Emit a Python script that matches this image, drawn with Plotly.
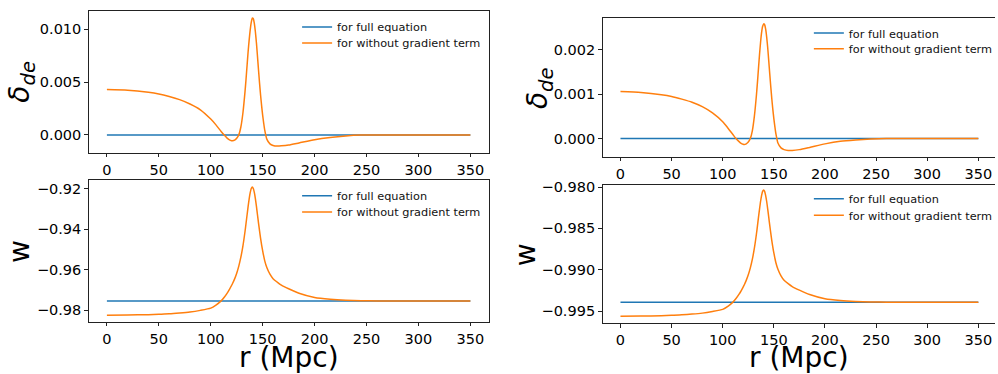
import plotly.graph_objects as go

# radial grid (Mpc) for the "without gradient term" solutions
r = [0, 20, 40, 50, 60, 70, 80, 90, 100, 105, 110, 113, 116, 118, 120, 121, 123, 125, 127, 129, 131, 133,
     134, 135, 136, 137, 138, 139, 140, 141, 142, 143, 144, 145, 146, 147, 148, 149, 150, 151, 152,
     154, 157, 160, 164, 168, 175, 185, 200, 215, 230, 245, 260, 300, 350]

# density contrast, model A (left column) and model B (right column)
delta_nograd_a = [0.00429, 0.00424, 0.00404, 0.00388, 0.00364, 0.00334, 0.00293, 0.00238, 0.00150, 0.00095,
                  0.00033, -0.00002, -0.00033, -0.00047, -0.00055, -0.00056, -0.00050, -0.00032, 0.00000,
                  0.00075, 0.00210, 0.00410, 0.00530, 0.00660, 0.00790, 0.00900, 0.00995, 0.01065, 0.01106,
                  0.01100, 0.01055, 0.00975, 0.00870, 0.00745, 0.00615, 0.00490, 0.00375, 0.00275, 0.00185,
                  0.00110, 0.00045, -0.00040, -0.00085, -0.00100, -0.00106, -0.00104, -0.00096, -0.00076,
                  -0.00045, -0.00024, -0.00010, -0.00002, 0.0, 0.0, 0.0]
delta_nograd_b = [0.00106, 0.00104, 0.00099, 0.00095, 0.00089, 0.00082, 0.00072, 0.00058, 0.00038, 0.00024,
                  0.00009, 0.00000, -0.00007, -0.00011, -0.00013, -0.000135, -0.00012, -0.00008, 0.00000,
                  0.00018, 0.00051, 0.00099, 0.00128, 0.00159, 0.00190, 0.00217, 0.00239, 0.00253, 0.00259,
                  0.00257, 0.00247, 0.00229, 0.00205, 0.00176, 0.00146, 0.00117, 0.00090, 0.00066, 0.00045,
                  0.00027, 0.00011, -0.00010, -0.00021, -0.00025, -0.00027, -0.00027, -0.00025, -0.00020,
                  -0.00012, -0.00006, -0.00003, -0.00001, 0.0, 0.0, 0.0]

# equation of state parameter
w_nograd_a = [-0.98257, -0.98247, -0.98227, -0.98207, -0.98187, -0.98147, -0.98097, -0.98017, -0.97907,
              -0.97757, -0.97547, -0.97367, -0.97147, -0.96977, -0.96787, -0.96687, -0.96457, -0.96177,
              -0.95827, -0.95387, -0.94827, -0.94117, -0.93707, -0.93287, -0.92877, -0.92497, -0.92197,
              -0.91987, -0.91920, -0.91987, -0.92197, -0.92497, -0.92877, -0.93287, -0.93697, -0.94087,
              -0.94457, -0.94787, -0.95077, -0.95337, -0.95567, -0.95897, -0.96227, -0.96447, -0.96617,
              -0.96767, -0.96947, -0.97167, -0.97377, -0.97467, -0.97517, -0.97542, -0.97547, -0.97547,
              -0.97547]
w_nograd_b = [-0.99563, -0.99561, -0.99556, -0.99551, -0.99546, -0.99537, -0.99525, -0.99505, -0.99479,
              -0.99443, -0.99392, -0.99349, -0.99296, -0.99255, -0.99209, -0.99185, -0.99129, -0.99062,
              -0.98978, -0.98872, -0.98737, -0.98565, -0.98467, -0.98365, -0.98267, -0.98175, -0.98103,
              -0.98052, -0.98036, -0.98052, -0.98103, -0.98175, -0.98267, -0.98365, -0.98464, -0.98558,
              -0.98647, -0.98727, -0.98797, -0.98859, -0.98915, -0.98994, -0.99074, -0.99127, -0.99168,
              -0.99204, -0.99247, -0.99300, -0.99351, -0.99373, -0.99385, -0.99391, -0.99392, -0.99392,
              -0.99392]

# full equation solutions stay at the background values
r_full = [0, 350]
delta_full_a = [0.0, 0.0]
delta_full_b = [0.0, 0.0]
w_full_a = [-0.97547, -0.97547]
w_full_b = [-0.99392, -0.99392]

x_ticks = [0, 50, 100, 150, 200, 250, 300, 350]

W, H = 998, 374
BLUE, ORANGE = "#1f77b4", "#ff7f0e"
FONT = "DejaVu Sans"


def fx(px):
    return px / W


def fy(py):
    return 1 - py / H


# panel geometry in pixels: (left, right, top, bottom)
panels = [
    dict(ax="", box=(89, 490, 5, 149), xr=[-17.5, 367.5], yr=[-0.001678, 0.011743],
         ytick=[0, 0.005, 0.010], fmt=".3f", full=delta_full_a, nograd=delta_nograd_a,
         leg=(303, 21, 37.3), right=True),
    dict(ax="2", box=(604.4, 998, 12.3, 153.3), xr=[-17.5, 366.3], yr=[-0.000413, 0.00272],
         ytick=[0, 0.001, 0.002], fmt=".3f", full=delta_full_b, nograd=delta_nograd_b,
         leg=(816.3, 27.3, 43.3), right=False),
    dict(ax="3", box=(89, 490, 177.3, 321), xr=[-17.5, 367.5], yr=[-0.98584, -0.91591],
         ytick=[-0.98, -0.96, -0.94, -0.92], fmt=".2f", full=w_full_a, nograd=w_nograd_a,
         leg=(303, 192.7, 209), right=True),
    dict(ax="4", box=(604.4, 998, 182.3, 322.3), xr=[-17.5, 366.3], yr=[-0.99646, -0.97980],
         ytick=[-0.995, -0.990, -0.985, -0.980], fmt=".3f", full=w_full_b, nograd=w_nograd_b,
         leg=(816.3, 195.7, 212.3), right=False),
]

fig = go.Figure()
layout = dict(
    width=W, height=H, margin=dict(l=0, r=0, t=0, b=0),
    paper_bgcolor="white", plot_bgcolor="white",
    font=dict(family=FONT, color="black"),
    showlegend=True,
)

leg_n = 0
for p in panels:
    left, right, top, bottom = p["box"]
    xa, ya = "x" + p["ax"], "y" + p["ax"]
    axis_common = dict(showgrid=False, zeroline=False, showline=True, linecolor="#222", linewidth=1,
                       ticks="outside", ticklen=3.5, tickwidth=1, tickcolor="#222",
                       tickfont=dict(family=FONT, size=14.5, color="black"))
    layout["xaxis" + p["ax"]] = dict(axis_common, domain=[fx(left), fx(right)], range=p["xr"],
                                     tickvals=x_ticks, mirror=True, anchor=ya)
    layout["yaxis" + p["ax"]] = dict(axis_common, domain=[fy(bottom), fy(top)], range=p["yr"],
                                     tickvals=p["ytick"], tickformat=p["fmt"],
                                     mirror=p["right"], anchor=xa)
    lx, ly1, ly2 = p["leg"]
    for name, xs, ys, color, ly in [("for full equation", r_full, p["full"], BLUE, ly1),
                                    ("for without gradient term", r, p["nograd"], ORANGE, ly2)]:
        leg_n += 1
        leg_id = "legend" if leg_n == 1 else f"legend{leg_n}"
        fig.add_trace(go.Scatter(
            x=xs, y=ys, mode="lines", name=name, xaxis=xa, yaxis=ya, legend=leg_id,
            line=dict(color=color, width=1.5, shape="spline", smoothing=0.6),
        ))
        layout[leg_id] = dict(x=fx(lx - 5), y=fy(ly - 14.5), xanchor="left", yanchor="top",
                              bgcolor="rgba(0,0,0,0)", borderwidth=0,
                              font=dict(family=FONT, size=11.3, color="#111"))

big = dict(family=FONT, size=28, color="black")
delta_label = "<i>δ</i><sub><i>de</i></sub>"
layout["annotations"] = [
    dict(text=delta_label, x=fx(22), y=fy(77), textangle=-90, font=big),
    dict(text=delta_label, x=fx(541), y=fy(83), textangle=-90, font=big),
    dict(text="w", x=fx(19), y=fy(249), textangle=-90, font=big),
    dict(text="w", x=fx(526.5), y=fy(252.3), textangle=-90, font=big),
    dict(text="r (Mpc)", x=fx(289.5), y=fy(357.5), font=big),
    dict(text="r (Mpc)", x=fx(801.5), y=fy(357), font=big),
]
for a in layout["annotations"]:
    a.update(xref="paper", yref="paper", showarrow=False, xanchor="center", yanchor="middle")

fig.update_layout(layout)
fig.write_html("out.html")
